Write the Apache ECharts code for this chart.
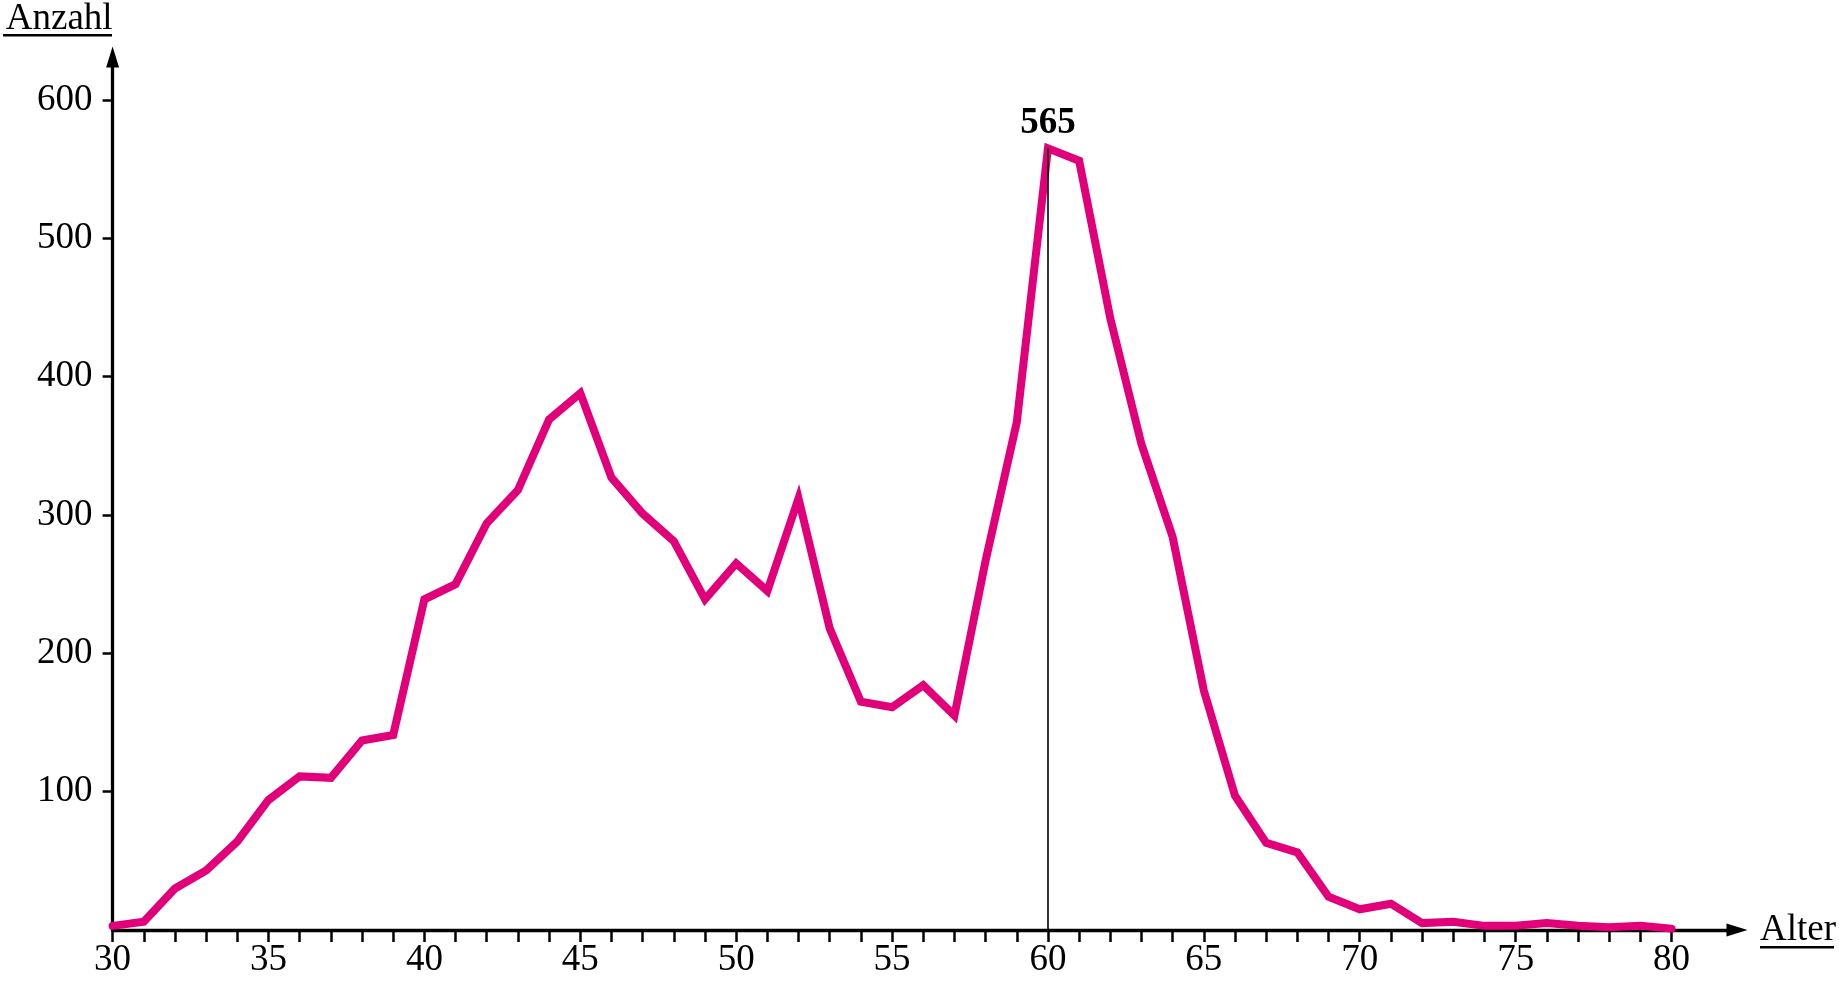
<!DOCTYPE html>
<html>
<head>
<meta charset="utf-8">
<script src="https://cdn.jsdelivr.net/npm/echarts@6/dist/echarts.min.js"></script>
<style>
html,body{margin:0;padding:0;background:#fff;}
#chart{width:1839px;height:981px;}
</style>
</head>
<body>
<div id="chart"></div>
<script>
// ---- data ----
const ages = [30,31,32,33,34,35,36,37,38,39,40,41,42,43,44,45,46,47,48,49,50,51,52,53,54,55,56,57,58,59,60,61,62,63,64,65,66,67,68,69,70,71,72,73,74,75,76,77,78,79,80];
const counts = [3,6,30,43,64,94,111,110,137,141,239,250,294,318,369,388,327,301,281,239,265,245,312,218,165,161,177,155,267,367,565,556,442,351,284,173,97,63,56,24,15,19,5,6,3,3,5,3,2,3,1];
const xLabelTicks = [30,35,40,45,50,55,60,65,70,75,80];
const yLabelTicks = [100,200,300,400,500,600];
const xName = 'Alter';
const yName = 'Anzahl';

const FONT = "'Liberation Serif','Times New Roman',serif";
const FS = 37;
const LINE_COLOR = '#e2007a';

let maxIdx = 0;
counts.forEach((v,i)=>{ if(v>counts[maxIdx]) maxIdx=i; });

const seriesData = ages.map((a,i)=>[a,counts[i]]);

const chart = echarts.init(document.getElementById('chart'), null, {renderer:'canvas'});
chart.setOption({
  backgroundColor:'#fff',
  animation:false,
  grid:{left:112.6, right:102, top:57, bottom:51, containLabel:false, outerBoundsMode:'none'},
  xAxis:{
    type:'value', min:30, max:82.1,
    name:xName, nameLocation:'end', nameGap:23,
    nameTextStyle:{color:'#000', fontFamily:FONT, fontSize:FS, verticalAlign:'middle'},
    axisLine:{show:true, onZero:false, lineStyle:{color:'#000', width:3.3}, symbol:['none','triangle'], symbolSize:[13,21]},
    axisTick:{show:true, inside:false, length:12, lineStyle:{color:'#000', width:2.5}, customValues:ages},
    axisLabel:{show:true, margin:12, color:'#000', fontFamily:FONT, fontSize:FS, customValues:xLabelTicks, showMinLabel:true},
    splitLine:{show:false}
  },
  yAxis:{
    type:'value', min:0, max:631,
    name:yName, nameLocation:'end', nameGap:19,
    nameTextStyle:{color:'#000', fontFamily:FONT, fontSize:FS, align:'right', verticalAlign:'bottom'},
    axisLine:{show:true, onZero:false, lineStyle:{color:'#000', width:3.3}, symbol:['none','triangle'], symbolSize:[13,21]},
    axisTick:{show:true, inside:false, length:10, lineStyle:{color:'#000', width:2.5}, customValues:yLabelTicks},
    axisLabel:{show:true, margin:20, color:'#000', fontFamily:FONT, fontSize:FS, customValues:yLabelTicks},
    splitLine:{show:false}
  },
  graphic:[
    {type:'rect', shape:{x:3, y:34, width:109, height:2.5}, style:{fill:'#000'}, z:10},
    {type:'rect', shape:{x:1760, y:946, width:74, height:2.5}, style:{fill:'#000'}, z:10}
  ],
  series:[{
    type:'line',
    data:seriesData,
    showSymbol:false,
    symbol:'none',
    lineStyle:{color:LINE_COLOR, width:8, cap:'round', join:'miter'},
    itemStyle:{color:LINE_COLOR},
    z:3,
    markPoint:{
      silent:true,
      symbol:'circle',
      symbolSize:1,
      itemStyle:{color:'rgba(0,0,0,0)'},
      label:{show:true, position:'top', distance:6, color:'#000', fontFamily:FONT, fontSize:FS, fontWeight:'bold',
        formatter:(p)=>String(p.value)},
      data:[{coord:[ages[maxIdx],counts[maxIdx]], value:counts[maxIdx]}]
    },
    markLine:{
      silent:true,
      symbol:['none','none'],
      label:{show:false},
      lineStyle:{color:'#000', width:1.6, type:'solid'},
      data:[[{coord:[ages[maxIdx],0]},{coord:[ages[maxIdx],counts[maxIdx]]}]]
    }
  }]
});
</script>
</body>
</html>
